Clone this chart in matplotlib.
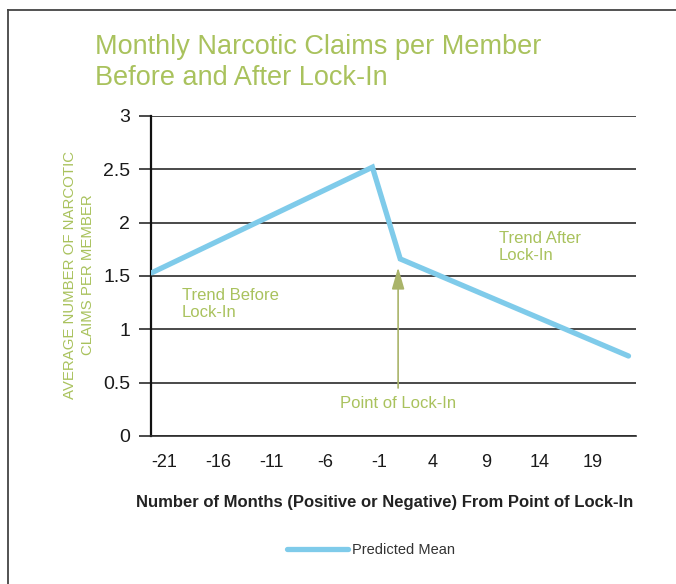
"""
Monthly narcotic claims per member, before and after lock-in.
"""

import matplotlib
matplotlib.use("Agg")
import matplotlib.pyplot as plt
from matplotlib.lines import Line2D


# data
months = [-22.2, -1.6, 1.0, 22.3]
predicted_mean = [1.53, 2.52, 1.66, 0.75]

x_ticks = [-21, -16, -11, -6, -1, 4, 9, 14, 19]
y_ticks = [0, 0.5, 1, 1.5, 2, 2.5, 3]
y_tick_labels = ["0", "0.5", "1", "1.5", "2", "2.5", "3"]

lock_in_month = 0.8
lock_in_tip = 1.58
lock_in_tail = 0.45

GREEN = "#a9c25d"
ARROW = "#aab46a"
BLUE = "#7fcbea"
DARK = "#2b2b2b"

plt.rcParams["font.family"] = ["Liberation Sans", "DejaVu Sans"]

W, H = 676, 584
fig = plt.figure(figsize=(W / 100, H / 100), dpi=100)


def px(x0, y0, x1, y1):
    return [x0 / W, 1 - y1 / H, (x1 - x0) / W, (y1 - y0) / H]


ax = fig.add_axes(px(151, 116, 636, 436))

ax.plot(months, predicted_mean, color=BLUE, lw=3.8,
        solid_capstyle="round", solid_joinstyle="miter", zorder=3)

ax.set_xlim(-22.26, 23.0)
ax.set_ylim(0, 3)

ax.set_yticks(y_ticks)
ax.set_yticklabels(y_tick_labels)
ax.set_xticks(x_ticks)
ax.set_xticklabels([str(t) for t in x_ticks])

ax.grid(axis="y", color=DARK, lw=1.2, zorder=1)
ax.set_axisbelow(True)

for side in ["top", "right"]:
    ax.spines[side].set_visible(False)
ax.spines["left"].set_color("#111111")
ax.spines["left"].set_linewidth(1.6)
ax.spines["bottom"].set_color(DARK)
ax.spines["bottom"].set_linewidth(1.2)

ax.tick_params(axis="y", length=9, width=1.2, color=DARK, pad=6,
               labelsize=14, labelcolor="#1a1a1a")
ax.tick_params(axis="x", length=0, pad=13, labelsize=13,
               labelcolor="#1a1a1a")

# annotations
ax.annotate("", xy=(lock_in_month, lock_in_tip),
            xytext=(lock_in_month, lock_in_tail),
            arrowprops=dict(arrowstyle="-|>,head_width=0.16,head_length=0.55",
                            color=ARROW, lw=1.2,
                            mutation_scale=24, shrinkA=0, shrinkB=0))
ax.text(lock_in_month, 0.3, "Point of Lock-In", color=GREEN,
        fontsize=12, ha="center", va="center")
ax.text(-19.4, 1.24, "Trend Before\nLock-In", color=GREEN,
        fontsize=12, ha="left", va="center", linespacing=1.2)
ax.text(10.2, 1.77, "Trend After\nLock-In", color=GREEN,
        fontsize=12, ha="left", va="center", linespacing=1.2)

# x label
fig.text(385 / W, 1 - 503 / H,
         "Number of Months (Positive or Negative) From Point of Lock-In",
         fontsize=12, fontweight="bold", color="#222222",
         ha="center", va="center")

# y label
fig.text(79 / W, 1 - 275 / H, "AVERAGE NUMBER OF NARCOTIC\nCLAIMS PER MEMBER",
         rotation=90, ha="center", va="center", color=GREEN,
         fontsize=10.8, linespacing=1.3)

# title
fig.text(95 / W, 1 - 47 / H, "Monthly Narcotic Claims per Member",
         color=GREEN, fontsize=19.5, ha="left", va="center")
fig.text(95 / W, 1 - 78 / H, "Before and After Lock-In",
         color=GREEN, fontsize=19.5, ha="left", va="center")

# legend
fig.legend(handles=[Line2D([], [], color=BLUE, lw=3.8,
                           solid_capstyle="round")],
           labels=["Predicted Mean"], loc="center",
           bbox_to_anchor=(371 / W, 1 - 550 / H), frameon=False,
           fontsize=10.5, handlelength=4.2, handletextpad=0.3,
           labelcolor="#333333")

# frame lines
fig.add_artist(Line2D([8 / W, 1], [1 - 10 / H, 1 - 10 / H],
                      color="#444444", lw=1.3))
fig.add_artist(Line2D([8 / W, 8 / W], [0, 1 - 10 / H],
                      color="#444444", lw=1.3))

fig.savefig("out.png", dpi=100)
